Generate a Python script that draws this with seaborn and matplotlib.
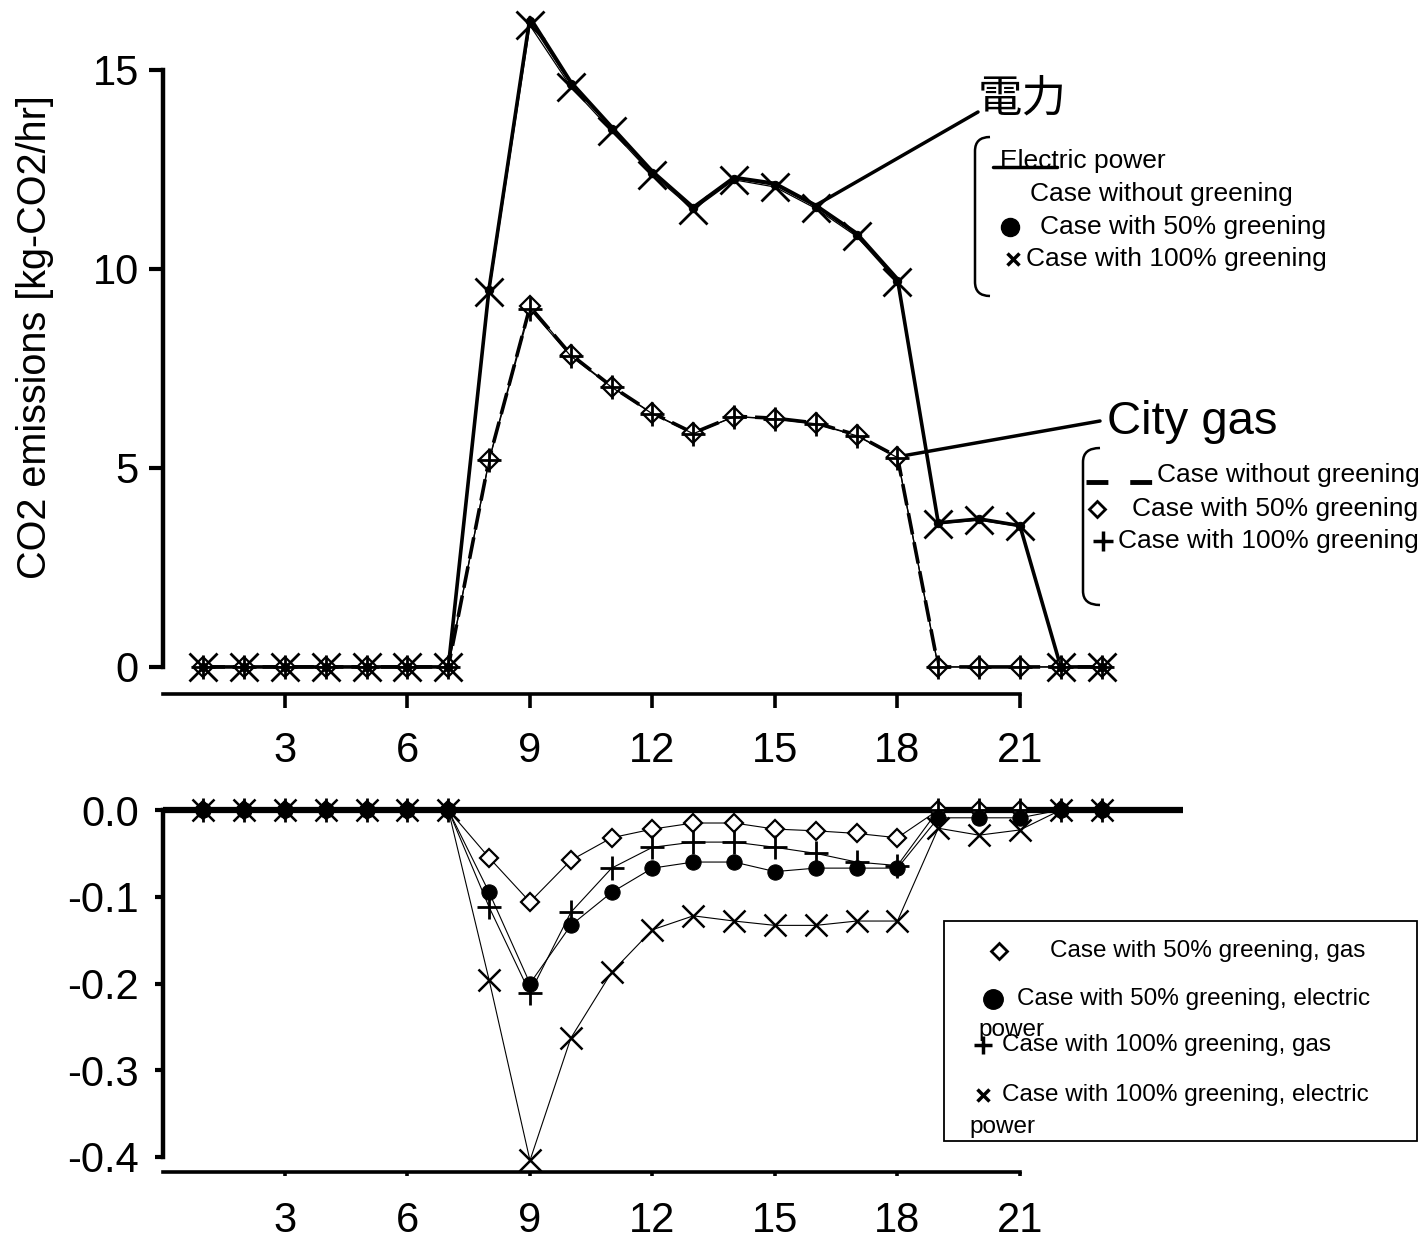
import matplotlib
matplotlib.use("Agg")
import matplotlib.pyplot as plt
from matplotlib.lines import Line2D
from matplotlib.path import Path
from matplotlib.patches import PathPatch, Rectangle
import seaborn as sns

sns.set_style("ticks")
plt.rcParams["font.family"] = ["Liberation Sans", "Noto Sans CJK JP", "DejaVu Sans"]
plt.rcParams["text.color"] = "black"
plt.rcParams["axes.edgecolor"] = "black"
plt.rcParams["axes.labelcolor"] = "black"
plt.rcParams["xtick.color"] = "black"
plt.rcParams["ytick.color"] = "black"

# ---------------- data ----------------
hours = [1, 2, 3, 4, 5, 6, 7, 8, 9, 10, 11, 12, 13, 14, 15, 16, 17, 18, 19, 20, 21, 22, 23]

elec_none = [0, 0, 0, 0, 0, 0, 0, 9.52, 16.32, 14.70, 13.57, 12.45, 11.55, 12.30, 12.15, 11.60, 10.90, 9.75, 3.62, 3.72, 3.55, 0, 0]
elec_50 = [0, 0, 0, 0, 0, 0, 0, 9.47, 16.22, 14.64, 13.52, 12.41, 11.52, 12.27, 12.10, 11.56, 10.86, 9.71, 3.61, 3.71, 3.54, 0, 0]
elec_100 = [0, 0, 0, 0, 0, 0, 0, 9.42, 16.12, 14.58, 13.47, 12.37, 11.49, 12.24, 12.06, 11.52, 10.82, 9.68, 3.60, 3.69, 3.53, 0, 0]

gas_none = [0, 0, 0, 0, 0, 0, 0, 5.22, 9.05, 7.85, 7.05, 6.38, 5.88, 6.30, 6.25, 6.13, 5.83, 5.28, 0, 0, 0, 0, 0]
gas_50 = [0, 0, 0, 0, 0, 0, 0, 5.20, 9.08, 7.84, 7.04, 6.37, 5.87, 6.29, 6.24, 6.12, 5.82, 5.27, 0, 0, 0, 0, 0]
gas_100 = [0, 0, 0, 0, 0, 0, 0, 5.19, 8.99, 7.81, 7.03, 6.36, 5.86, 6.29, 6.23, 6.11, 5.81, 5.26, 0, 0, 0, 0, 0]

diff_gas_50 = [0, 0, 0, 0, 0, 0, 0, -0.055, -0.106, -0.058, -0.032, -0.022, -0.015, -0.015, -0.022, -0.024, -0.027, -0.032, 0, 0, 0, 0, 0]
diff_elec_50 = [0, 0, 0, 0, 0, 0, 0, -0.095, -0.200, -0.133, -0.095, -0.067, -0.060, -0.060, -0.071, -0.067, -0.067, -0.067, -0.009, -0.009, -0.009, 0, 0]
diff_gas_100 = [0, 0, 0, 0, 0, 0, 0, -0.112, -0.211, -0.118, -0.067, -0.043, -0.037, -0.037, -0.043, -0.050, -0.060, -0.064, 0, 0, 0, 0, 0]
diff_elec_100 = [0, 0, 0, 0, 0, 0, 0, -0.196, -0.404, -0.263, -0.187, -0.138, -0.122, -0.128, -0.133, -0.133, -0.128, -0.128, -0.021, -0.029, -0.023, 0, 0]

x_ticks = [3, 6, 9, 12, 15, 18, 21]
top_yticks = [0, 5, 10, 15]
top_ylabels = ["0", "5", "10", "15"]
bot_yticks = [0.0, -0.1, -0.2, -0.3, -0.4]
bot_ylabels = ["0.0", "-0.1", "-0.2", "-0.3", "-0.4"]

# ---------------- figure ----------------
W, H = 1426, 1246
fig = plt.figure(figsize=(W / 100, H / 100), dpi=100)


def rect(l, t, r, b):
    return [l / W, 1 - b / H, (r - l) / W, (b - t) / H]


def fx(x):
    return x / W


def fy(y):
    return 1 - y / H


K = "black"

# ---------- top axes ----------
ax1 = fig.add_axes(rect(162.5, 667 - 16.7 * 39.8, 1183.25, 694))
ax1.set_xlim(0, 25)
ax1.set_ylim(-0.68, 16.7)

sns.lineplot(x=hours, y=gas_none, ax=ax1, color=K, lw=2.6, ls=(0, (6, 2.2)), zorder=3)
sns.lineplot(x=hours, y=gas_50, ax=ax1, color=K, lw=0.9, marker="D", markersize=10,
             markerfacecolor="white", markeredgecolor=K, markeredgewidth=1.6, zorder=4)
sns.lineplot(x=hours, y=gas_100, ax=ax1, color=K, lw=0.9, marker="+", markersize=17,
             markeredgecolor=K, markeredgewidth=2.0, zorder=5)
sns.lineplot(x=hours, y=elec_none, ax=ax1, color=K, lw=2.6, zorder=3)
sns.lineplot(x=hours, y=elec_50, ax=ax1, color=K, lw=0.9, marker="o", markersize=6,
             markerfacecolor=K, markeredgecolor=K, zorder=4)
sns.lineplot(x=hours, y=elec_100, ax=ax1, color=K, lw=0.9, marker="x", markersize=20,
             markeredgecolor=K, markeredgewidth=2.0, zorder=5)

for s in ["top", "right"]:
    ax1.spines[s].set_visible(False)
ax1.spines["left"].set_linewidth(3.2)
ax1.spines["bottom"].set_linewidth(2.6)
ax1.spines["left"].set_bounds(0, 15)
ax1.spines["bottom"].set_bounds(0, 21)
ax1.set_xticks(x_ticks)
ax1.set_xticklabels([str(t) for t in x_ticks])
ax1.set_yticks(top_yticks)
ax1.set_yticklabels(top_ylabels)
ax1.tick_params(axis="x", length=10, width=2.6, pad=17, labelsize=30, colors=K)
ax1.tick_params(axis="y", length=10, width=3.0, pad=7, labelsize=30, colors=K)
ax1.set_xlabel("")
ax1.set_ylabel("")

fig.text(fx(35), fy(337), "CO2 emissions [kg-CO2/hr]", rotation=90, ha="center", va="center",
         fontsize=28.5, color=K)

# annotation leader lines
ax1.annotate("", xy=(16, elec_none[15]), xytext=(978, H - 112), textcoords="figure pixels",
             arrowprops=dict(arrowstyle="-", lw=2.5, color=K, shrinkA=0, shrinkB=0))
ax1.annotate("", xy=(18, gas_none[17]), xytext=(1100, H - 421), textcoords="figure pixels",
             arrowprops=dict(arrowstyle="-", lw=2.5, color=K, shrinkA=0, shrinkB=0))

fig.text(fx(1022), fy(100), "電力", ha="center", va="center", fontsize=32, color=K)
fig.text(fx(1192), fy(422), "City gas", ha="center", va="center", fontsize=34, color=K)


def bracket(xv, xe, yt, yb, r=14):
    verts = [(xe, yt), (xv, yt), (xv, yt + r), (xv, yb - r), (xv, yb), (xe, yb)]
    codes = [Path.MOVETO, Path.CURVE3, Path.CURVE3, Path.LINETO, Path.CURVE3, Path.CURVE3]
    verts = [(fx(a), fy(b)) for a, b in verts]
    fig.add_artist(PathPatch(Path(verts, codes), fill=False, lw=1.8, ec=K,
                             transform=fig.transFigure))


bracket(975, 990, 137, 296)
bracket(1083, 1100, 448, 605)

LFS = 19
# electric legend
fig.add_artist(Line2D([fx(993), fx(1057)], [fy(167), fy(167)], color=K, lw=2.5,
                      transform=fig.transFigure))
fig.text(fx(1000), fy(161), "Electric power", ha="left", va="center", fontsize=LFS, color=K)
fig.text(fx(1030), fy(194), "Case without greening", ha="left", va="center", fontsize=LFS, color=K)
fig.add_artist(Line2D([fx(1010)], [fy(227)], marker="o", markersize=13, color=K, ls="none",
                      transform=fig.transFigure))
fig.text(fx(1040), fy(227), "Case with 50% greening", ha="left", va="center", fontsize=LFS, color=K)
fig.add_artist(Line2D([fx(1013)], [fy(259)], marker="x", markersize=9, mew=2.5, color=K, ls="none",
                      transform=fig.transFigure))
fig.text(fx(1026), fy(259), "Case with 100% greening", ha="left", va="center", fontsize=LFS, color=K)

# gas legend
fig.add_artist(Line2D([fx(1086), fx(1156)], [fy(482), fy(482)], color=K, lw=3.5,
                      ls=(0, (4.5, 4.5)), transform=fig.transFigure))
fig.text(fx(1157), fy(475), "Case without greening", ha="left", va="center", fontsize=LFS, color=K)
fig.add_artist(Line2D([fx(1097)], [fy(509)], marker="D", markersize=8, mfc="white", mec=K,
                      mew=2.0, ls="none", transform=fig.transFigure))
fig.text(fx(1132), fy(509), "Case with 50% greening", ha="left", va="center", fontsize=LFS, color=K)
fig.add_artist(Line2D([fx(1103)], [fy(541)], marker="+", markersize=14, mew=2.5, color=K,
                      ls="none", transform=fig.transFigure))
fig.text(fx(1118), fy(541), "Case with 100% greening", ha="left", va="center", fontsize=LFS, color=K)

# ---------- bottom axes ----------
ax2 = fig.add_axes(rect(162.5, 810 - 0.02 * 867.5, 1183.25, 810 + 0.417 * 867.5))
ax2.set_xlim(0, 25)
ax2.set_ylim(-0.417, 0.02)
ax2.axhline(0, color=K, lw=4.5, zorder=2)

sns.lineplot(x=hours, y=diff_gas_50, ax=ax2, color=K, lw=0.8, marker="D", markersize=9.5,
             markerfacecolor="white", markeredgecolor=K, markeredgewidth=1.6, zorder=4)
sns.lineplot(x=hours, y=diff_elec_50, ax=ax2, color=K, lw=0.8, marker="o", markersize=11,
             markerfacecolor=K, markeredgecolor=K, zorder=4)
sns.lineplot(x=hours, y=diff_gas_100, ax=ax2, color=K, lw=0.8, marker="+", markersize=17,
             markeredgecolor=K, markeredgewidth=2.0, zorder=5)
sns.lineplot(x=hours, y=diff_elec_100, ax=ax2, color=K, lw=0.8, marker="x", markersize=16,
             markeredgecolor=K, markeredgewidth=1.8, zorder=5)

for s in ["top", "right"]:
    ax2.spines[s].set_visible(False)
ax2.spines["left"].set_linewidth(3.2)
ax2.spines["bottom"].set_linewidth(2.6)
ax2.spines["left"].set_bounds(-0.4, 0)
ax2.spines["bottom"].set_bounds(0, 21)
ax2.set_xticks(x_ticks)
ax2.set_xticklabels([str(t) for t in x_ticks])
ax2.set_yticks(bot_yticks)
ax2.set_yticklabels(bot_ylabels)
ax2.tick_params(axis="x", length=3, width=2.6, pad=18, labelsize=30, colors=K)
ax2.tick_params(axis="y", length=6, width=3.0, pad=11, labelsize=30, colors=K)
ax2.set_xlabel("")
ax2.set_ylabel("")

# bottom legend box
fig.add_artist(Rectangle((fx(944), fy(1141)), (1417 - 944) / W, (1141 - 921) / H, fill=False,
                         ec=K, lw=1.3, transform=fig.transFigure))
BFS = 17.5
fig.add_artist(Line2D([fx(999)], [fy(951)], marker="D", markersize=8, mfc="white", mec=K, mew=2.0,
                      ls="none", transform=fig.transFigure))
fig.text(fx(1050), fy(951), "Case with 50% greening, gas", ha="left", va="center", fontsize=BFS, color=K)
fig.add_artist(Line2D([fx(993)], [fy(999)], marker="o", markersize=14, color=K, ls="none",
                      transform=fig.transFigure))
fig.text(fx(1017), fy(999), "Case with 50% greening, electric", ha="left", va="center", fontsize=BFS, color=K)
fig.text(fx(978), fy(1030), "power", ha="left", va="center", fontsize=BFS, color=K)
fig.add_artist(Line2D([fx(983)], [fy(1045)], marker="+", markersize=13, mew=2.5, color=K,
                      ls="none", transform=fig.transFigure))
fig.text(fx(1002), fy(1045), "Case with 100% greening, gas", ha="left", va="center", fontsize=BFS, color=K)
fig.add_artist(Line2D([fx(983)], [fy(1095)], marker="x", markersize=8, mew=2.5, color=K,
                      ls="none", transform=fig.transFigure))
fig.text(fx(1002), fy(1095), "Case with 100% greening, electric", ha="left", va="center", fontsize=BFS, color=K)
fig.text(fx(969), fy(1127), "power", ha="left", va="center", fontsize=BFS, color=K)

fig.savefig("out.png", dpi=100, facecolor="white")
